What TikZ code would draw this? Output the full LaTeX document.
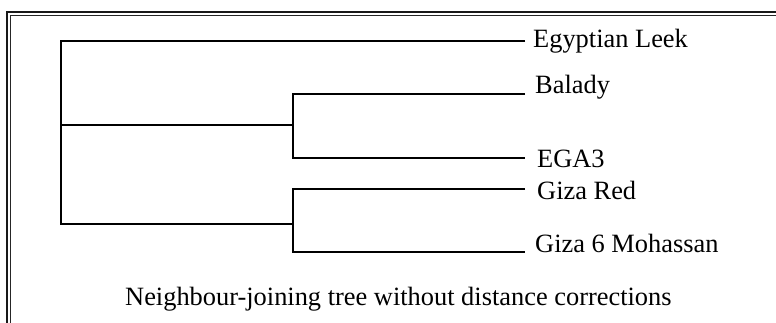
\documentclass[tikz,border=0pt]{standalone}
\usepackage{fontspec}
\setmainfont{Liberation Serif}
\begin{document}
\begin{tikzpicture}[x=1pt,y=-1pt,
  branch/.style={line width=1.3pt, black, line join=miter},
  outerrule/.style={line width=1.4pt, black!90},
  innerrule/.style={line width=0.9pt, black!85},
  leaf/.style={anchor=base west, inner sep=0pt, font=\fontsize{26.4}{30}\selectfont},
  caption/.style={anchor=base west, inner sep=0pt, font=\fontsize{26.4}{30}\selectfont}]
\useasboundingbox (0,0) rectangle (776,323);

% double frame, running off the right and bottom edges
\draw[outerrule] (7,340) -- (7,12) -- (800,12);
\draw[innerrule] (10.5,340) -- (10.5,15.2) -- (800,15.2);

% internal nodes of the tree
\coordinate (rootTop) at (61,41);
\coordinate (rootMid) at (61,125);
\coordinate (rootBot) at (61,224);
\coordinate (cladeA) at (293,125);
\coordinate (cladeB) at (293,224);

% tips of the branches
\coordinate (tipLeek)  at (525,41);
\coordinate (tipBal)   at (525,94);
\coordinate (tipEGA)   at (525,158);
\coordinate (tipRed)   at (525,189);
\coordinate (tipMoh)   at (525,252);

% leaf labels
\node[leaf] (leek) at (533,48)  {Egyptian Leek};
\node[leaf] (bal)  at (535,94)  {Balady};
\node[leaf] (ega)  at (537,168) {EGA3};
\node[leaf] (red)  at (537,200) {Giza Red};
\node[leaf] (moh)  at (535,252) {Giza 6 Mohassan};

% branches
\draw[branch] (tipLeek) -| (rootBot) -- (cladeB);
\draw[branch] (rootMid) -- (cladeA);
\draw[branch] (tipBal) -| (cladeA) |- (tipEGA);
\draw[branch] (tipRed) -| (cladeB) |- (tipMoh);

% caption
\node[caption] (cap) at (125,305.5) {Neighbour-joining tree without distance corrections};
\end{tikzpicture}
\end{document}
